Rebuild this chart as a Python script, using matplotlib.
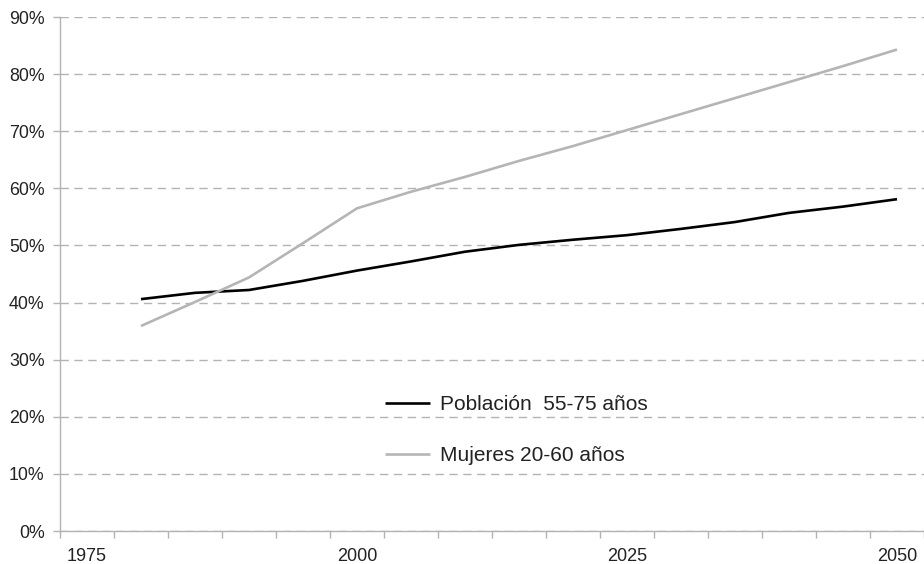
import matplotlib
matplotlib.use("Agg")
import matplotlib.pyplot as plt
from matplotlib.ticker import FixedLocator, FuncFormatter

years = [1980, 1985, 1990, 1995, 2000, 2005, 2010, 2015, 2020, 2025, 2030, 2035, 2040, 2045, 2050]
poblacion_55_75 = [40.6, 41.7, 42.2, 43.8, 45.6, 47.2, 48.9, 50.1, 51.0, 51.8, 52.9, 54.1, 55.7, 56.8, 58.1]
mujeres_20_60 = [35.9, 40.1, 44.4, 50.4, 56.5, 59.4, 62.0, 64.8, 67.4, 70.2, 73.0, 75.8, 78.6, 81.4, 84.3]
label_years = [1975, 2000, 2025, 2050]
y_ticks = [0, 10, 20, 30, 40, 50, 60, 70, 80, 90]

plt.rcParams['font.family'] = ['Liberation Sans', 'DejaVu Sans']

fig = plt.figure(figsize=(9.24, 5.64), dpi=100)
ax = fig.add_axes([60/924, 33/564, 864/924, 514/564])

ax.plot(years, poblacion_55_75, color='black', lw=1.9, label='Población  55-75 años', solid_capstyle='butt')
ax.plot(years, mujeres_20_60, color='#b5b5b5', lw=1.9, label='Mujeres 20-60 años', solid_capstyle='butt')

ax.set_xlim(1972.5, 2052.5)
ax.set_ylim(0, 90)

grid_c = '#b3b3b3'
for s in ['top', 'right']:
    ax.spines[s].set_visible(False)
for s in ['left', 'bottom']:
    ax.spines[s].set_color(grid_c)
    ax.spines[s].set_linewidth(1.0)

ax.yaxis.set_major_locator(FixedLocator(y_ticks))
ax.yaxis.set_major_formatter(FuncFormatter(lambda v, p: f"{int(v)}%"))
ax.grid(axis='y', color=grid_c, linestyle=(0, (6, 4)), linewidth=1.0)
ax.set_axisbelow(True)

ax.xaxis.set_major_locator(FixedLocator(label_years))
ax.xaxis.set_major_formatter(FuncFormatter(lambda v, p: f"{int(v)}"))
ax.xaxis.set_minor_locator(FixedLocator([1972.5 + 5 * k for k in range(17)]))
ax.tick_params(axis='x', which='major', length=0, pad=12, labelsize=13, colors='#222222')
ax.tick_params(axis='x', which='minor', length=5, width=1.0, color=grid_c)
ax.tick_params(axis='y', which='major', length=5, width=1.0, color=grid_c, pad=6, labelsize=12.8, labelcolor='#222222')

leg = ax.legend(loc='upper left', bbox_to_anchor=((385 - 60) / 864, (531 - 395) / 514),
                frameon=False, fontsize=15, borderpad=0, handlelength=2.15,
                handletextpad=0.5, labelspacing=1.55, borderaxespad=0)
for t in leg.get_texts():
    t.set_color('#222222')

fig.savefig('out.png', dpi=100)
